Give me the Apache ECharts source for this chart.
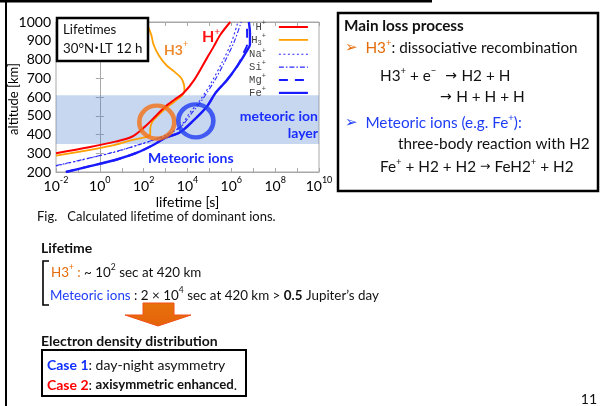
<!DOCTYPE html>
<html>
<head>
<meta charset="utf-8">
<script src="https://cdn.jsdelivr.net/npm/echarts@6/dist/echarts.min.js"></script>
<style>
  html, body { margin: 0; padding: 0; background: #fff; }
  #chart { width: 600px; height: 406px; }
</style>
</head>
<body>
<div id="chart"></div>
<script>
// ---- axis ticks ----
const altitudeTicks = [200, 300, 400, 500, 600, 700, 800, 900, 1000];
const lifetimeExponents = [-2, 0, 2, 4, 6, 8, 10];

// ---- lifetime profiles: log10(lifetime [s]) against altitude [km] ----
const hPlusLogLifetime = [-2, -0.5, 0.7, 1.46, 2.06, 2.52, 2.98, 3.4, 3.81, 4.3, 4.88, 5.2, 5.49, 5.95];
const hPlusAltitude    = [300, 332, 362, 388, 442, 495, 548, 585, 620, 690, 806, 870, 931, 1000];

const h3PlusLogLifetime = [-2, -0.5, 0.7, 1.46, 1.9, 2.2, 2.3, 2.3, 2.38, 2.6, 3.0, 3.4, 3.75, 3.86, 3.84, 3.72, 3.45, 3.05, 2.7, 2.45, 2.35, 2.2];
const h3PlusAltitude    = [287, 317, 345, 370, 381, 390, 402, 430, 465, 495, 538, 575, 608, 635, 665, 700, 730, 768, 820, 880, 930, 975];

const naPlusLogLifetime = [-2, -0.5, 0.7, 1.76, 2.5, 3.0, 3.66, 4.1, 4.58, 5.1, 5.6, 6.0, 6.3];
const naPlusAltitude    = [232, 273, 307, 344, 372, 395, 441, 515, 584, 680, 790, 890, 1000];

const siPlusLogLifetime = [-2, -0.5, 0.7, 1.76, 2.5, 3.0, 3.7, 4.2, 4.7, 5.25, 5.75, 6.15, 6.45];
const siPlusAltitude    = [234, 274, 308, 345, 373, 396, 441, 515, 590, 690, 800, 900, 1000];

const mgPlusLogLifetime = [-1.55, -0.5, 0.7, 1.7, 2.5, 3.0, 3.66, 4.3, 4.88, 5.3, 5.8, 6.3, 6.6, 6.72, 6.72, 6.7];
const mgPlusAltitude    = [200, 230, 264, 303, 348, 383, 412, 478, 548, 625, 690, 770, 845, 880, 940, 1000];

const fePlusLogLifetime = [-1.55, -0.5, 0.7, 1.7, 2.5, 3.0, 3.66, 4.3, 4.88, 5.3, 5.8, 6.3, 6.7, 6.85, 6.85, 6.8];
const fePlusAltitude    = [200, 230, 264, 303, 348, 383, 412, 478, 548, 625, 690, 770, 845, 880, 940, 1000];

// meteoric ion layer (altitude range, km)
const meteoricLayerAltitude = [350, 610];

// circled regions: H3+ crossing and meteoric ions around 420-480 km
const highlightLogLifetime = [2.6, 4.38];
const highlightAltitude    = [466, 473];

// ---------------------------------------------------------------
const FONT = 'Lato, "Noto Sans", sans-serif';
const MONO = '"Liberation Mono", "DejaVu Sans Mono", monospace';
const SYMF = '"DejaVu Sans", sans-serif';
const BLACK = '#111111';
const ORANGE = '#e46c0a';
const BLUE = '#1a1aff';
const TXTBLUE = '#1f3df5';

const zip = (xs, ys) => xs.map((x, i) => [x, ys[i]]);

function tok(fill, size, weight, extra) {
  return Object.assign({ fontFamily: FONT, fontSize: size, fontWeight: weight || 'normal', lineHeight: 20, fill: fill }, extra || {});
}
function sup(fill, size) {
  return { fontFamily: FONT, fontSize: size || 9, lineHeight: 10, verticalAlign: 'top', fill: fill };
}

const BIG = 15.3;   // right panel text
const MID = 13.4;   // lifetime lines
const RICH = {
  n: tok(BLACK, 14), b: tok(BLACK, 14, 'bold'), s: sup(BLACK),
  m: tok(BLACK, MID), mb: tok(BLACK, MID, 'bold'), mo: tok(ORANGE, MID), mbl: tok(TXTBLUE, MID),
  ms: sup(BLACK, 8.5), mos: sup(ORANGE, 8.5),
  N: tok(BLACK, BIG), B: tok(BLACK, BIG, 'bold'), S: sup(BLACK, 9.5),
  O: tok(ORANGE, BIG), OS: sup(ORANGE, 9.5),
  BL: tok(TXTBLUE, BIG), BLS: sup(TXTBLUE, 9.5),
  blb: tok('#1030ff', 14, 'bold'), rb: tok('#ff0000', 14, 'bold'), cb: tok(BLACK, 13.2, 'bold'),
  ao: { fontFamily: SYMF, fontSize: 15, lineHeight: 20, fill: ORANGE },
  ab: { fontFamily: SYMF, fontSize: 15, lineHeight: 20, fill: TXTBLUE },
  ar: { fontFamily: SYMF, fontSize: 14, lineHeight: 20, fill: BLACK },
  arf: { fontFamily: SYMF, fontSize: 12.5, lineHeight: 20, fill: BLACK },
  f: tok(BLACK, 13),
  t: tok(BLACK, 13.3), dot: { fontFamily: SYMF, fontSize: 9, lineHeight: 20, fill: BLACK },
  // plot annotations
  hr: tok('#ff1010', 16, 'bold'), hrs: sup('#ff1010', 10),
  ho: tok('#ee8a30', 14, 'bold'), hos: sup('#ee8a30', 9),
  mt: tok('#1a2cff', 14, 'bold')
};

function text(x, y, parts, align, extra) {
  return Object.assign({
    type: 'text', x: x, y: y, z: 60,
    style: {
      text: parts.map(p => '{' + p[0] + '|' + p[1] + '}').join(''),
      rich: RICH, textAlign: align || 'left', textVerticalAlign: 'middle'
    }
  }, extra || {});
}

function box(x, y, w, h, lw, z) {
  return { type: 'rect', z: z, shape: { x: x, y: y, width: w, height: h },
           style: { fill: '#fff', stroke: '#000', lineWidth: lw } };
}

// legend labels with sub/superscripts
const legendLabels = {
  'H+':  '{m|H}{p|+}{g| }',
  'H3+': '{m|H}{d|3}{p|+}{g| }',
  'Na+': '{m|Na}{p|+}{g| }',
  'Si+': '{m|Si}{p|+}{g| }',
  'Mg+': '{m|Mg}{p|+}{g| }',
  'Fe+': '{m|Fe}{p|+}{g| }'
};
const legendLineWidth = { 'H+': 2, 'H3+': 1.8, 'Na+': 1.1, 'Si+': 1.1, 'Mg+': 2, 'Fe+': 2.2 };

function lineSeries(name, xs, ys, color, width, type) {
  return {
    name: name, type: 'line', data: zip(xs, ys), smooth: 0.3,
    symbol: 'none', showSymbol: false, z: 2, silent: true,
    lineStyle: { color: color, width: width, type: type || 'solid' },
    itemStyle: { color: color }
  };
}

const axisGrey = '#a8a8a8';
const option = {
  animation: false,
  backgroundColor: '#fff',
  grid: { left: 56, right: 281, top: 22, bottom: 234, show: true, borderColor: axisGrey, borderWidth: 1 },
  xAxis: [{
    type: 'value', min: -2, max: 10, interval: 1,
    axisLine: { show: true, lineStyle: { color: axisGrey } },
    axisTick: { show: true, inside: true, length: 4, lineStyle: { color: axisGrey } },
    splitLine: { show: false },
    axisLabel: {
      margin: 4, color: '#000',
      formatter: v => lifetimeExponents.includes(v) ? '{b|10}{s|' + v + '}' : '',
      rich: {
        b: { fontFamily: FONT, fontSize: 14, lineHeight: 20, color: '#000' },
        s: { fontFamily: FONT, fontSize: 9, lineHeight: 10, verticalAlign: 'top', color: '#000' }
      }
    },
    name: 'lifetime [s]', nameLocation: 'middle', nameGap: 23,
    nameTextStyle: { fontFamily: FONT, fontSize: 14, color: '#000' }
  }, {
    type: 'value', min: -2, max: 10, interval: 1, position: 'top',
    axisLine: { show: true, lineStyle: { color: axisGrey } },
    axisTick: { show: true, inside: true, length: 4, lineStyle: { color: axisGrey } },
    axisLabel: { show: false }, splitLine: { show: false }
  }],
  yAxis: [{
    type: 'value', min: 200, max: 1000, interval: 100,
    axisLine: { show: true, lineStyle: { color: axisGrey } },
    axisTick: { show: true, inside: true, length: 4, lineStyle: { color: axisGrey } },
    splitLine: { show: false },
    axisLabel: {
      margin: 5, fontFamily: FONT, fontSize: 14, color: '#000',
      formatter: v => altitudeTicks.includes(v) ? String(v) : ''
    }
  }, {
    type: 'value', min: 200, max: 1000, interval: 100, position: 'right',
    axisLine: { show: true, lineStyle: { color: axisGrey } },
    axisTick: { show: true, inside: true, length: 4, lineStyle: { color: axisGrey } },
    axisLabel: { show: false }, splitLine: { show: false }
  }],
  legend: {
    orient: 'vertical', right: 291, top: 20, padding: 0, align: 'right',
    itemWidth: 29, itemHeight: 14, itemGap: 0.3, selectedMode: false,
    data: ['H+', 'H3+', 'Na+', 'Si+', 'Mg+', 'Fe+'].map(n => ({
      name: n,
      itemStyle: { color: 'rgba(0,0,0,0)', borderWidth: 0, opacity: 0 },
      lineStyle: { width: legendLineWidth[n] }
    })),
    formatter: name => legendLabels[name],
    textStyle: {
      color: '#444',
      rich: {
        m: { fontFamily: MONO, fontSize: 10.5, lineHeight: 14, color: '#444' },
        p: { fontFamily: MONO, fontSize: 7, lineHeight: 7, verticalAlign: 'top', color: '#444' },
        d: { fontFamily: MONO, fontSize: 7, lineHeight: 7, verticalAlign: 'bottom', color: '#444' },
        g: { fontFamily: MONO, fontSize: 7, width: 8 }
      }
    }
  },
  series: [
    lineSeries('Na+', naPlusLogLifetime, naPlusAltitude, '#2a2aff', 1.1, [2, 2.5]),
    lineSeries('Si+', siPlusLogLifetime, siPlusAltitude, '#2a2aff', 1.1, [5, 2, 1.5, 2]),
    lineSeries('Mg+', mgPlusLogLifetime, mgPlusAltitude, BLUE, 2, [9, 7]),
    lineSeries('Fe+', fePlusLogLifetime, fePlusAltitude, BLUE, 2.4),
    lineSeries('H3+', h3PlusLogLifetime, h3PlusAltitude, '#ffa000', 1.8),
    lineSeries('H+', hPlusLogLifetime, hPlusAltitude, '#ff0000', 2),
    {
      name: 'layer', type: 'line', data: [], z: 3, silent: true,
      markArea: {
        silent: true,
        itemStyle: { color: 'rgba(68,124,205,0.30)' },
        data: [[{ yAxis: meteoricLayerAltitude[0] }, { yAxis: meteoricLayerAltitude[1] }]]
      }
    },
    {
      name: 'highlight', type: 'scatter', z: 5, silent: true,
      symbol: 'circle', symbolSize: [35, 33],
      data: zip(highlightLogLifetime, highlightAltitude).map((v, i) => ({
        value: v,
        itemStyle: { color: 'rgba(0,0,0,0)', borderColor: i === 0 ? '#f47216' : '#1f3cf2', borderWidth: 4.5 }
      }))
    }
  ],
  graphic: [
    // slide frame lines
    { type: 'rect', z: 1, shape: { x: 0, y: 0, width: 432, height: 2.5 }, style: { fill: '#000' } },
    { type: 'rect', z: 1, shape: { x: 5, y: 0, width: 2, height: 406 }, style: { fill: '#000' } },
    // y axis title with white backing
    {
      type: 'text', x: 14, y: 99, rotation: Math.PI / 2, z: 20,
      style: { text: 'altitude [km]', font: '13px ' + FONT, fill: '#000', backgroundColor: '#fff',
               textAlign: 'center', textVerticalAlign: 'middle', padding: [0, 1] }
    },
    // plot annotations
    box(57, 18, 91, 43, 2.5, 30),
    text(63, 30, [['t', 'Lifetimes']]),
    text(63, 49, [['t', '30°N'], ['dot', '•'], ['t', 'LT 12 h']]),
    text(202, 37, [['hr', 'H'], ['hrs', '+']]),
    text(164, 50, [['ho', 'H3'], ['hos', '+']]),
    text(318, 116, [['mt', 'meteoric ion']], 'right'),
    text(318, 133, [['mt', 'layer']], 'right'),
    text(148, 158, [['mt', 'Meteoric ions']]),
    // figure caption
    text(37, 217, [['f', 'Fig.   Calculated lifetime of dominant ions.']]),
    // right panel
    box(338, 13, 260, 178, 2.5, 30),
    text(344, 26, [['B', 'Main loss process']]),
    text(345, 48, [['ao', '➢'], ['O', '  H3'], ['OS', '+'], ['N', ': dissociative recombination']]),
    text(380, 76, [['N', 'H3'], ['S', '+'], ['N', ' + e'], ['S', '−'], ['ar', '  → '], ['N', 'H2 + H']]),
    text(440, 97, [['ar', '→ '], ['N', 'H + H + H']]),
    text(345, 123, [['ab', '➢'], ['BL', '  Meteoric ions (e.g. Fe'], ['BLS', '+'], ['BL', '):']]),
    text(398, 144, [['N', 'three-body reaction with H2']]),
    text(380, 167, [['N', 'Fe'], ['S', '+'], ['N', ' + H2 + H2 '], ['arf', '→ '], ['N', 'FeH2'], ['S', '+'], ['N', ' + H2']]),
    // lifetime summary
    text(41, 248, [['b', 'Lifetime']]),
    { type: 'polyline', z: 40, shape: { points: [[49, 261], [43, 261], [43, 305], [49, 305]] },
      style: { stroke: '#000', lineWidth: 1.6, fill: null } },
    text(51, 273, [['mo', 'H3'], ['mos', '+'], ['mo', ' :'], ['m', ' ~ 10'], ['ms', '2'], ['m', ' sec at 420 km']]),
    text(50, 296, [['mbl', 'Meteoric ions'], ['m', ' : 2 × 10'], ['ms', '4'], ['m', ' sec at 420 km > '], ['mb', '0.5'], ['m', ' Jupiter’s day']]),
    // down arrow
    {
      type: 'polygon', z: 40,
      shape: { points: [[143, 303], [174, 303], [174, 315], [191, 315], [158, 326], [125, 315], [143, 315]] },
      style: {
        fill: { type: 'linear', x: 0, y: 0, x2: 0, y2: 1, colorStops: [{ offset: 0, color: '#e8720c' }, { offset: 1, color: '#e4620a' }] },
        stroke: '#f2501a', lineWidth: 1
      }
    },
    text(41, 341, [['b', 'Electron density distribution']]),
    box(42, 350, 204, 46, 2, 30),
    text(47, 365, [['blb', 'Case 1'], ['n', ': day-night asymmetry']]),
    text(47, 385, [['rb', 'Case 2'], ['n', ': '], ['cb', 'axisymmetric enhanced'], ['n', '.']]),
    // page number
    text(597, 399, [['n', '11']], 'right')
  ]
};

const chart = echarts.init(document.getElementById('chart'));
chart.setOption(option);
</script>
</body>
</html>
